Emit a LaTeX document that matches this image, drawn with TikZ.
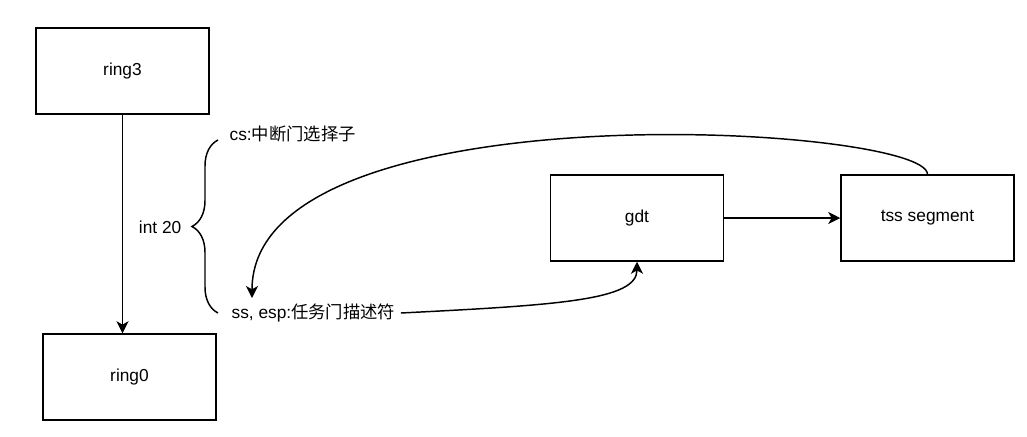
\documentclass[tikz,border=0pt]{standalone}
\usepackage{fontspec}
\setmainfont{Liberation Sans}
\newfontfamily\cjk{Noto Sans CJK SC}
\usepackage{xcolor}
\definecolor{cLine}{HTML}{000000}
\usetikzlibrary{positioning,arrows.meta,decorations.pathreplacing}
\tikzset{
  node-box/.style={draw=cLine,line width=1.1pt,minimum width=129.75pt,
    minimum height=64.5pt,align=center,font=\fontsize{13}{15}\selectfont},
  node-label/.style={font=\fontsize{13}{15}\selectfont,inner sep=4pt},
  arrow/.style={-{Stealth[length=9pt,width=9pt,inset=2.5pt]},line width=1.1pt,draw=cLine},
  brace-line/.style={decorate,decoration={brace,amplitude=19.5pt},
    line width=1.1pt,draw=cLine},
}

\begin{document}
\begin{tikzpicture}[x=0.75pt,y=-0.75pt]
  \useasboundingbox (0,0) rectangle (1027,436);
  \node[node-box] at (122.5,71) (ring3) {ring3};
  \node[node-box] at (129.5,377) (ring0) {ring0};
  \node[node-box] at (637,218) (gdt) {gdt};
  \node[node-box,right=87pt of gdt] (tss) {tss segment};
  % 门描述符说明
  \node[node-label,anchor=west] at (224,134) (cs) {cs:{\cjk 中断门选择子}};
  \node[node-label,anchor=west] at (226,313) (ss) {ss, esp:{\cjk 任务门描述符}};
  \node[node-label,anchor=east] at (187,227) (int) {int 20};
  \draw[brace-line] (218,313) -- (218,140);
  \coordinate (ss-in) at (252,298);
  \draw[arrow] (ring3.south) -- (ring3.south |- ring0.north);
  \draw[arrow] (gdt.east) -- (tss.west);
  \draw[arrow] (tss.north) .. controls (927,125) and (252,85) .. (ss-in);
  \draw[arrow] (ss.east) .. controls (560,305) and (637,300) .. (gdt.south);
\end{tikzpicture}
\end{document}
